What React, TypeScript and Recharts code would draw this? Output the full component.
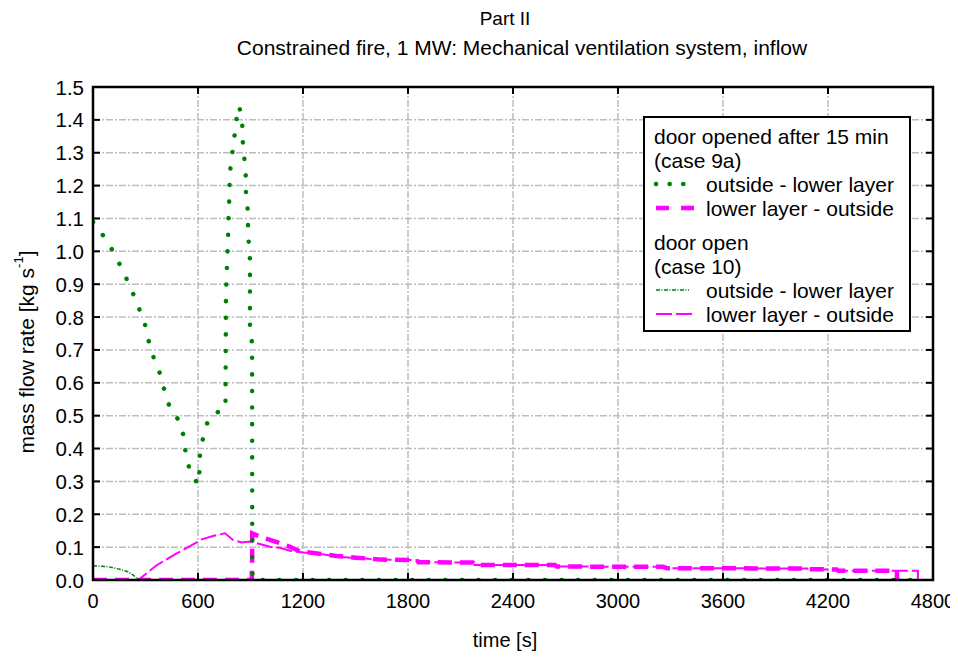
import { CartesianGrid, Line, LineChart, XAxis, YAxis } from "recharts";

// plot box inside the chart (chart coords, page minus 8px body margin)
const PL = 85;
const PT = 79;
const PR = 925;
const PB = 572;

const xMajorTicks = [0, 600, 1200, 1800, 2400, 3000, 3600, 4200, 4800];
const yMajorTicks = [0, 0.1, 0.2, 0.3, 0.4, 0.5, 0.6, 0.7, 0.8, 0.9, 1.0, 1.1, 1.2, 1.3, 1.4, 1.5];
const xMinorTicks = Array.from({ length: 41 }, (_, i) => i * 120);
const yMinorTicks = Array.from({ length: 61 }, (_, i) => (i * 25) / 1000);

// case 9a: door opened after 15 min
const case9aOutsideLower = [
  { t: 0, v: 1.09 }, { t: 15, v: 1.078 }, { t: 78, v: 1.034 }, { t: 131, v: 0.984 },
  { t: 179, v: 0.931 }, { t: 221, v: 0.882 }, { t: 261, v: 0.829 }, { t: 297, v: 0.778 },
  { t: 318, v: 0.728 }, { t: 347, v: 0.676 }, { t: 385, v: 0.625 }, { t: 411, v: 0.572 },
  { t: 440, v: 0.523 }, { t: 495, v: 0.482 }, { t: 522, v: 0.43 }, { t: 530, v: 0.378 },
  { t: 558, v: 0.326 }, { t: 602, v: 0.29 }, { t: 608, v: 0.33 }, { t: 612, v: 0.39 },
  { t: 634, v: 0.444 }, { t: 663, v: 0.495 }, { t: 710, v: 0.51 }, { t: 757, v: 0.52 },
  { t: 760, v: 0.88 }, { t: 771, v: 1.03 }, { t: 783, v: 1.24 }, { t: 794, v: 1.29 },
  { t: 807, v: 1.343 }, { t: 817, v: 1.394 }, { t: 834, v: 1.442 }, { t: 845, v: 1.42 },
  { t: 853, v: 1.385 }, { t: 856, v: 1.333 }, { t: 865, v: 1.282 }, { t: 873, v: 1.229 },
  { t: 874, v: 1.18 }, { t: 884, v: 1.126 }, { t: 886, v: 1.077 }, { t: 890, v: 1.025 },
  { t: 897, v: 0.974 }, { t: 897, v: 0.77 }, { t: 909, v: 0.718 }, { t: 910, v: 0.05 },
  { t: 912, v: 0 }, { t: 4750, v: 0 },
];

const case9aLowerOutside = [
  { t: 0, v: 0 }, { t: 907, v: 0 }, { t: 909, v: 0.04 }, { t: 910, v: 0.142 },
  { t: 954, v: 0.132 }, { t: 1011, v: 0.122 }, { t: 1069, v: 0.112 }, { t: 1126, v: 0.101 },
  { t: 1183, v: 0.087 }, { t: 1278, v: 0.081 }, { t: 1392, v: 0.073 }, { t: 1500, v: 0.068 },
  { t: 1650, v: 0.062 }, { t: 1850, v: 0.061 }, { t: 1860, v: 0.054 }, { t: 2170, v: 0.053 },
  { t: 2180, v: 0.046 }, { t: 2640, v: 0.046 }, { t: 2650, v: 0.041 }, { t: 3257, v: 0.04 },
  { t: 3280, v: 0.036 }, { t: 4080, v: 0.035 }, { t: 4090, v: 0.033 }, { t: 4250, v: 0.032 },
  { t: 4260, v: 0.028 }, { t: 4594, v: 0.028 }, { t: 4594, v: 0 }, { t: 4610, v: 0 },
];

// case 10: door open
const case10OutsideLower = [
  { t: 0, v: 0.043 }, { t: 86, v: 0.0405 }, { t: 154, v: 0.0325 }, { t: 200, v: 0.025 },
  { t: 230, v: 0.015 }, { t: 259, v: 0 }, { t: 4750, v: 0 },
];

const case10LowerOutside = [
  { t: 0, v: 0 }, { t: 259, v: 0 }, { t: 364, v: 0.045 }, { t: 478, v: 0.081 },
  { t: 554, v: 0.103 }, { t: 598, v: 0.116 }, { t: 611, v: 0.122 }, { t: 686, v: 0.134 },
  { t: 754, v: 0.142 }, { t: 800, v: 0.122 }, { t: 850, v: 0.114 }, { t: 897, v: 0.117 },
  { t: 935, v: 0.112 }, { t: 1011, v: 0.101 }, { t: 1069, v: 0.098 }, { t: 1126, v: 0.089 },
  { t: 1200, v: 0.084 }, { t: 1278, v: 0.081 }, { t: 1392, v: 0.071 }, { t: 1500, v: 0.067 },
  { t: 1650, v: 0.062 }, { t: 1850, v: 0.061 }, { t: 1860, v: 0.054 }, { t: 2170, v: 0.053 },
  { t: 2180, v: 0.046 }, { t: 2640, v: 0.046 }, { t: 2650, v: 0.041 }, { t: 3257, v: 0.04 },
  { t: 3280, v: 0.036 }, { t: 4080, v: 0.035 }, { t: 4090, v: 0.033 }, { t: 4250, v: 0.032 },
  { t: 4260, v: 0.028 }, { t: 4714, v: 0.028 }, { t: 4714, v: 0 },
];

const GREEN = "#008000";
const MAGENTA = "#ff00ff";
const FONT = '"Liberation Sans", Arial, sans-serif';

// tick marks point inward on all four sides; the position along the axis comes from recharts
function XMinorTick(props: any) {
  const { x } = props;
  return (
    <g>
      <line x1={x} x2={x} y1={PB} y2={PB - 4} stroke="#000" strokeWidth={2} />
      <line x1={x} x2={x} y1={PT} y2={PT + 4} stroke="#000" strokeWidth={2} />
    </g>
  );
}

function XMajorTick(props: any) {
  const { x, payload } = props;
  return (
    <g>
      <line x1={x} x2={x} y1={PB} y2={PB - 7} stroke="#000" strokeWidth={2} />
      <line x1={x} x2={x} y1={PT} y2={PT + 7} stroke="#000" strokeWidth={2} />
      <text x={x} y={PB + 21} textAnchor="middle" dominantBaseline="central" fontSize={20} fill="#000">
        {payload.value}
      </text>
    </g>
  );
}

function YMinorTick(props: any) {
  const { y } = props;
  return (
    <g>
      <line x1={PL} x2={PL + 4} y1={y} y2={y} stroke="#000" strokeWidth={2} />
      <line x1={PR} x2={PR - 4} y1={y} y2={y} stroke="#000" strokeWidth={2} />
    </g>
  );
}

function YMajorTick(props: any) {
  const { y, payload } = props;
  return (
    <g>
      <line x1={PL} x2={PL + 7} y1={y} y2={y} stroke="#000" strokeWidth={2} />
      <line x1={PR} x2={PR - 7} y1={y} y2={y} stroke="#000" strokeWidth={2} />
      <text x={PL - 9} y={y} textAnchor="end" dominantBaseline="central" fontSize={20.5} fill="#000">
        {payload.value.toFixed(1)}
      </text>
    </g>
  );
}

const legendRows = [
  { label: "outside - lower layer", stroke: GREEN, width: 4.5, dash: "0.1 13.5", y: 176, x2: 676 },
  { label: "lower layer - outside", stroke: MAGENTA, width: 4.5, dash: "13 12", y: 200, x2: 686 },
  { label: "outside - lower layer", stroke: GREEN, width: 1.5, dash: "4 1.5 1 1.5", y: 282, x2: 681 },
  { label: "lower layer - outside", stroke: MAGENTA, width: 2, dash: "16 4", y: 306, x2: 685 },
];

function Overlay() {
  return (
    <svg
      width={950}
      height={650}
      style={{ position: "absolute", left: 0, top: 0, pointerEvents: "none", fontFamily: FONT }}
    >
      {/* plot frame */}
      <rect x={PL} y={PT} width={PR - PL} height={PB - PT} fill="none" stroke="#000" strokeWidth={2.5} />

      <text x={497} y={10} textAnchor="middle" dominantBaseline="central" fontSize={19}>
        Part II
      </text>
      <text x={514} y={39} textAnchor="middle" dominantBaseline="central" fontSize={21}>
        Constrained fire, 1 MW: Mechanical ventilation system, inflow
      </text>
      <text x={497} y={632} textAnchor="middle" dominantBaseline="central" fontSize={20}>
        time [s]
      </text>
      <text
        x={18}
        y={344}
        transform="rotate(-90, 18, 344)"
        textAnchor="middle"
        dominantBaseline="central"
        fontSize={21}
      >
        mass flow rate [kg s
        <tspan dy={-8} fontSize={13}>-1</tspan>
        <tspan dy={8}>]</tspan>
      </text>

      <rect x={636} y={109} width={266} height={214} fill="#fff" stroke="#000" strokeWidth={2} />
      <g fontSize={21} dominantBaseline="central">
        <text x={646} y={128.7}>door opened after 15 min</text>
        <text x={646} y={152.7}>(case 9a)</text>
        <text x={646} y={234.7}>door open</text>
        <text x={646} y={258.7}>(case 10)</text>
        {legendRows.map((r, i) => (
          <g key={i}>
            <line
              x1={648}
              x2={r.x2}
              y1={r.y}
              y2={r.y}
              stroke={r.stroke}
              strokeWidth={r.width}
              strokeDasharray={r.dash}
              strokeLinecap={i === 0 ? "round" : "butt"}
            />
            <text x={698} y={r.y}>{r.label}</text>
          </g>
        ))}
      </g>
    </svg>
  );
}

export default function App() {
  return (
    <div style={{ position: "relative", width: 950, height: 650, fontFamily: FONT, background: "#fff" }}>
      <LineChart width={950} height={650} margin={{ top: 79, right: 25, bottom: 38, left: 0 }}>
        <CartesianGrid
          xAxisId="bottom"
          yAxisId="left"
          stroke="#bdbdbd"
          strokeWidth={1.5}
          strokeDasharray="7 2 2 2"
        />
        <XAxis
          xAxisId="bottom"
          dataKey="t"
          type="number"
          domain={[0, 4800]}
          ticks={xMajorTicks}
          interval={0}
          height={39}
          tickLine={false}
          axisLine={false}
          tick={(p: any) => <XMajorTick {...p} />}
          allowDataOverflow
        />
        <XAxis
          xAxisId="minorBottom"
          dataKey="t"
          type="number"
          domain={[0, 4800]}
          ticks={xMinorTicks}
          interval={0}
          height={1}
          tickLine={false}
          axisLine={false}
          tick={(p: any) => <XMinorTick {...p} />}
        />
        <YAxis
          yAxisId="left"
          type="number"
          domain={[0, 1.5]}
          ticks={yMajorTicks}
          interval={0}
          width={84}
          tickLine={false}
          axisLine={false}
          tick={(p: any) => <YMajorTick {...p} />}
          allowDataOverflow
        />
        <YAxis
          yAxisId="minorLeft"
          type="number"
          domain={[0, 1.5]}
          ticks={yMinorTicks}
          interval={0}
          width={1}
          tickLine={false}
          axisLine={false}
          tick={(p: any) => <YMinorTick {...p} />}
        />
        <Line
          xAxisId="bottom"
          yAxisId="left"
          data={case10LowerOutside}
          dataKey="v"
          type="linear"
          stroke={MAGENTA}
          strokeWidth={2}
          strokeDasharray="16 4"
          dot={false}
          isAnimationActive={false}
        />
        <Line
          xAxisId="bottom"
          yAxisId="left"
          data={case9aLowerOutside}
          dataKey="v"
          type="linear"
          stroke={MAGENTA}
          strokeWidth={4.5}
          strokeDasharray="14 8"
          dot={false}
          isAnimationActive={false}
        />
        <Line
          xAxisId="bottom"
          yAxisId="left"
          data={case10OutsideLower}
          dataKey="v"
          type="linear"
          stroke={GREEN}
          strokeWidth={1.5}
          strokeDasharray="4 1.5 1 1.5"
          dot={false}
          isAnimationActive={false}
        />
        <Line
          xAxisId="bottom"
          yAxisId="left"
          data={case9aOutsideLower}
          dataKey="v"
          type="linear"
          stroke={GREEN}
          strokeWidth={4.5}
          strokeDasharray="0.1 16.5"
          strokeLinecap="round"
          dot={false}
          isAnimationActive={false}
        />
      </LineChart>
      <Overlay />
    </div>
  );
}
